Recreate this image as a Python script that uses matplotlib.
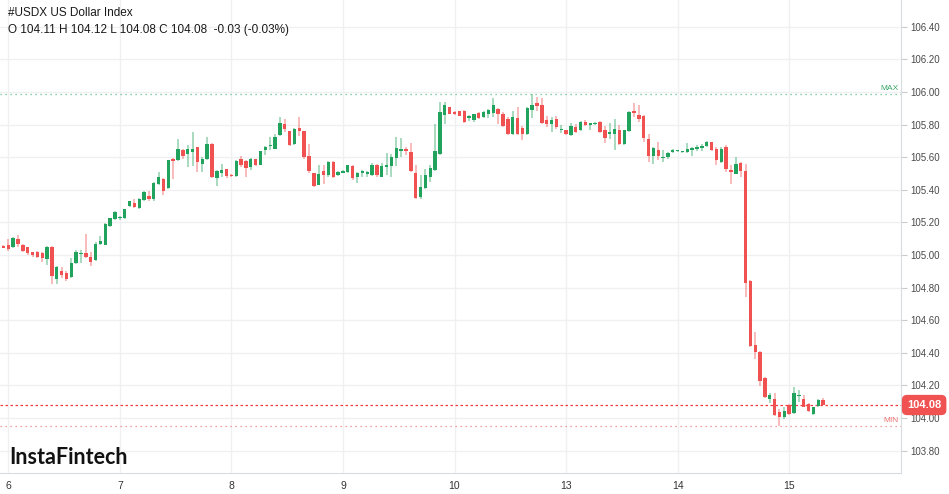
import matplotlib
matplotlib.use("Agg")
import matplotlib.pyplot as plt
import matplotlib.transforms as mtransforms

# hourly candles, 6th (last hour of the 5th first) to the 15th
opens = [105.055, 105.064, 105.047, 105.096, 105.064, 105.047, 105.018, 105.020, 105.010, 104.977,
         105.050, 104.850, 104.904, 104.890, 104.863, 104.950, 105.008, 105.010, 104.986, 104.970,
         105.068, 105.064, 105.180, 105.219, 105.225, 105.227, 105.300, 105.318, 105.289, 105.338,
         105.359, 105.342, 105.436, 105.467, 105.410, 105.590, 105.580, 105.642, 105.620, 105.632,
         105.660, 105.560, 105.587, 105.683, 105.472, 105.505, 105.525, 105.492, 105.482, 105.587,
         105.575, 105.540, 105.587, 105.554, 105.642, 105.670, 105.652, 105.739, 105.806, 105.759,
         105.683, 105.782, 105.759, 105.610, 105.500, 105.432, 105.514, 105.488, 105.573, 105.490,
         105.506, 105.508, 105.543, 105.477, 105.506, 105.498, 105.490, 105.549, 105.480, 105.537,
         105.543, 105.596, 105.640, 105.651, 105.630, 105.502, 105.354, 105.410, 105.477, 105.522,
         105.620, 105.860, 105.906, 105.880, 105.882, 105.882, 105.841, 105.829, 105.870, 105.845,
         105.866, 105.870, 105.896, 105.866, 105.835, 105.743, 105.841, 105.780, 105.743, 105.890,
         105.931, 105.917, 105.825, 105.804, 105.835, 105.764, 105.764, 105.733, 105.784, 105.764,
         105.815, 105.800, 105.804, 105.815, 105.768, 105.743, 105.743, 105.768, 105.678, 105.760,
         105.886, 105.860, 105.855, 105.712, 105.610, 105.645, 105.596, 105.604, 105.630, 105.636,
         105.632, 105.630, 105.645, 105.651, 105.657, 105.667, 105.692, 105.651, 105.569, 105.661,
         105.522, 105.498, 105.563, 105.514, 104.843, 104.450, 104.403, 104.246, 104.118, 104.118,
         104.036, 104.005, 104.080, 104.030, 104.135, 104.117, 104.084, 104.025, 104.076, 104.111]
highs = [105.060, 105.100, 105.110, 105.120, 105.070, 105.050, 105.020, 105.027, 105.016, 105.055,
         105.055, 104.930, 104.924, 104.904, 104.980, 105.030, 105.030, 105.130, 105.016, 105.078,
         105.117, 105.195, 105.230, 105.270, 105.240, 105.285, 105.334, 105.346, 105.350, 105.391,
         105.390, 105.445, 105.508, 105.473, 105.585, 105.595, 105.714, 105.652, 105.673, 105.756,
         105.660, 105.600, 105.722, 105.687, 105.520, 105.560, 105.530, 105.494, 105.580, 105.610,
         105.580, 105.595, 105.590, 105.640, 105.669, 105.724, 105.745, 105.845, 105.837, 105.763,
         105.780, 105.845, 105.763, 105.680, 105.506, 105.550, 105.550, 105.575, 105.578, 105.518,
         105.520, 105.555, 105.550, 105.508, 105.522, 105.518, 105.563, 105.559, 105.563, 105.625,
         105.620, 105.723, 105.718, 105.665, 105.686, 105.550, 105.488, 105.529, 105.549, 105.804,
         105.937, 105.937, 105.910, 105.885, 105.885, 105.890, 105.860, 105.866, 105.876, 105.882,
         105.896, 105.964, 105.903, 105.876, 105.845, 105.882, 105.907, 105.790, 105.910, 105.985,
         105.970, 105.964, 105.855, 105.845, 105.850, 105.800, 105.768, 105.808, 105.804, 105.820,
         105.829, 105.812, 105.815, 105.820, 105.794, 105.808, 105.835, 105.800, 105.768, 105.882,
         105.930, 105.917, 105.860, 105.743, 105.665, 105.692, 105.641, 105.630, 105.651, 105.647,
         105.640, 105.686, 105.665, 105.672, 105.678, 105.702, 105.696, 105.661, 105.661, 105.672,
         105.549, 105.600, 105.569, 105.559, 104.847, 104.526, 104.413, 104.250, 104.152, 104.152,
         104.056, 104.066, 104.086, 104.193, 104.170, 104.144, 104.090, 104.070, 104.117, 104.120]
lows = [105.040, 105.027, 105.040, 105.050, 105.020, 105.000, 104.990, 104.980, 104.955, 104.940,
        104.820, 104.820, 104.860, 104.840, 104.860, 104.945, 104.950, 104.980, 104.935, 104.965,
        105.064, 105.060, 105.174, 105.215, 105.215, 105.223, 105.297, 105.289, 105.285, 105.334,
        105.334, 105.334, 105.432, 105.365, 105.405, 105.464, 105.575, 105.587, 105.540, 105.546,
        105.510, 105.510, 105.583, 105.474, 105.423, 105.478, 105.472, 105.478, 105.478, 105.542,
        105.478, 105.520, 105.546, 105.550, 105.611, 105.642, 105.648, 105.730, 105.755, 105.669,
        105.677, 105.730, 105.590, 105.500, 105.420, 105.430, 105.436, 105.477, 105.475, 105.487,
        105.500, 105.504, 105.457, 105.440, 105.480, 105.477, 105.487, 105.477, 105.477, 105.488,
        105.480, 105.543, 105.600, 105.616, 105.508, 105.344, 105.344, 105.406, 105.447, 105.518,
        105.616, 105.806, 105.862, 105.860, 105.850, 105.810, 105.820, 105.815, 105.835, 105.841,
        105.841, 105.845, 105.804, 105.784, 105.739, 105.739, 105.733, 105.706, 105.739, 105.841,
        105.886, 105.804, 105.784, 105.753, 105.774, 105.747, 105.739, 105.727, 105.747, 105.760,
        105.794, 105.764, 105.800, 105.747, 105.686, 105.713, 105.641, 105.672, 105.672, 105.753,
        105.845, 105.815, 105.692, 105.569, 105.559, 105.580, 105.569, 105.590, 105.627, 105.630,
        105.628, 105.625, 105.610, 105.640, 105.637, 105.663, 105.637, 105.549, 105.565, 105.508,
        105.436, 105.494, 105.481, 104.745, 104.438, 104.362, 104.199, 104.123, 104.090, 104.015,
        103.954, 103.996, 104.021, 104.025, 104.100, 104.066, 104.036, 104.019, 104.070, 104.080]
closes = [105.045, 105.035, 105.105, 105.068, 105.027, 105.014, 105.002, 104.990, 104.980, 105.047,
          104.870, 104.924, 104.879, 104.855, 104.950, 105.018, 105.012, 104.986, 104.960, 105.070,
          105.084, 105.190, 105.227, 105.262, 105.232, 105.280, 105.330, 105.293, 105.346, 105.387,
          105.342, 105.440, 105.480, 105.395, 105.580, 105.575, 105.648, 105.610, 105.648, 105.648,
          105.572, 105.590, 105.683, 105.478, 105.513, 105.520, 105.482, 105.482, 105.575, 105.554,
          105.534, 105.590, 105.554, 105.636, 105.663, 105.675, 105.724, 105.812, 105.771, 105.677,
          105.775, 105.763, 105.600, 105.514, 105.426, 105.498, 105.488, 105.570, 105.480, 105.508,
          105.514, 105.549, 105.473, 105.502, 105.518, 105.512, 105.553, 105.488, 105.543, 105.550,
          105.604, 105.657, 105.651, 105.637, 105.514, 105.350, 105.416, 105.488, 105.535, 105.637,
          105.876, 105.917, 105.866, 105.865, 105.855, 105.815, 105.855, 105.862, 105.841, 105.876,
          105.890, 105.917, 105.862, 105.794, 105.743, 105.845, 105.743, 105.740, 105.903, 105.923,
          105.911, 105.808, 105.804, 105.831, 105.784, 105.774, 105.743, 105.794, 105.753, 105.815,
          105.800, 105.808, 105.812, 105.753, 105.719, 105.753, 105.774, 105.678, 105.764, 105.876,
          105.870, 105.835, 105.719, 105.610, 105.657, 105.610, 105.604, 105.625, 105.645, 105.641,
          105.637, 105.650, 105.657, 105.665, 105.667, 105.692, 105.641, 105.580, 105.651, 105.528,
          105.508, 105.559, 105.518, 104.827, 104.444, 104.403, 104.230, 104.131, 104.144, 104.021,
          104.005, 104.046, 104.025, 104.152, 104.141, 104.070, 104.042, 104.066, 104.111, 104.080]

day_labels = ['6', '7', '8', '9', '10', '13', '14', '15']
day_starts = [1, 24, 47, 70, 93, 116, 139, 162]
price_ticks = [103.8, 104.0, 104.2, 104.4, 104.6, 104.8, 105.0, 105.2,
               105.4, 105.6, 105.8, 106.0, 106.2, 106.4]

GREEN = '#22a35d'
RED = '#f05252'

fig = plt.figure(figsize=(9.49, 4.94), dpi=100)
ax = fig.add_axes([0, 21 / 494, 901 / 949, 473 / 494])

xs = list(range(len(closes)))
cols = [GREEN if c >= o else RED for o, c in zip(opens, closes)]

ax.vlines(xs, lows, highs, colors=cols, linewidth=1.1, alpha=0.5, zorder=3)
bottoms = [min(o, c) for o, c in zip(opens, closes)]
heights = [max(abs(c - o), 0.006) for o, c in zip(opens, closes)]
ax.bar(xs, heights, bottom=bottoms, width=0.7, color=cols, linewidth=0, zorder=4)

ax.set_xlim(-0.71, 185.06)
ax.set_ylim(103.663, 106.564)

# grid
for d in day_starts:
    ax.axvline(d, color='#f0f0f3', lw=1, zorder=0)
for p in price_ticks:
    ax.axhline(p, color='#f0f0f3', lw=1, zorder=0)

# max / min / last lines
hi = max(highs)
lo = min(lows)
last = closes[-1]
ax.axhline(hi, color='#5cc08a', lw=0.9, ls=(0, (1, 3)), zorder=2)
ax.axhline(lo, color='#f08080', lw=0.9, ls=(0, (1, 3)), zorder=2)
ax.axhline(last, color='#f03c3c', lw=0.9, ls=(0, (2, 2)), zorder=2)
ax.text(184.6, hi + 0.012, 'MAX', color='#3aa56a', fontsize=6, ha='right', va='bottom',
        family='Liberation Sans')
ax.text(184.6, lo + 0.012, 'MIN', color='#f07070', fontsize=6, ha='right', va='bottom',
        family='Liberation Sans')

trans = mtransforms.blended_transform_factory(ax.transAxes, ax.transData)
ax.text(1.0 + 6 / 901, last, f'{last:.2f}', transform=trans, color='white', fontsize=8,
        ha='left', va='center', family='Liberation Sans', fontweight='bold', zorder=10,
        bbox=dict(boxstyle='round,pad=0.4,rounding_size=0.4', fc=RED, ec=RED), clip_on=False)

# axes styling
for s in ['top', 'left']:
    ax.spines[s].set_visible(False)
ax.spines['right'].set_color('#d8dbe0')
ax.spines['bottom'].set_color('#d8dbe0')
ax.yaxis.tick_right()
ax.set_yticks(price_ticks)
ax.set_yticklabels([f'{p:.2f}' for p in price_ticks])
ax.set_xticks(day_starts)
ax.set_xticklabels(day_labels)
ax.tick_params(axis='y', length=4, width=0.8, color='#c8ccd2', pad=3, labelsize=7,
               labelcolor='#4a4a4a')
ax.tick_params(axis='x', length=0, pad=6, labelsize=7.5, labelcolor='#333333')
for lab in ax.get_xticklabels() + ax.get_yticklabels():
    lab.set_family('Liberation Sans')

# header
fig.text(8 / 949, 1 - 13 / 494, '#USDX US Dollar Index', fontsize=8.5, color='#1a1a1a',
         va='center', ha='left', family='Liberation Sans')
fig.text(8 / 949, 1 - 30 / 494,
         f'O {opens[-1]:.2f} H {highs[-1]:.2f} L {lows[-1]:.2f} C {last:.2f}  -0.03 (-0.03%)',
         fontsize=8.5, color='#1a1a1a', va='center', ha='left', family='Liberation Sans')

# logo
fig.text(9 / 949, 1 - 457 / 494, 'InstaFintech', fontsize=15.5, color='#111111',
         va='center', ha='left', family='Lato', fontweight='bold')

fig.savefig('out.png', dpi=100)
